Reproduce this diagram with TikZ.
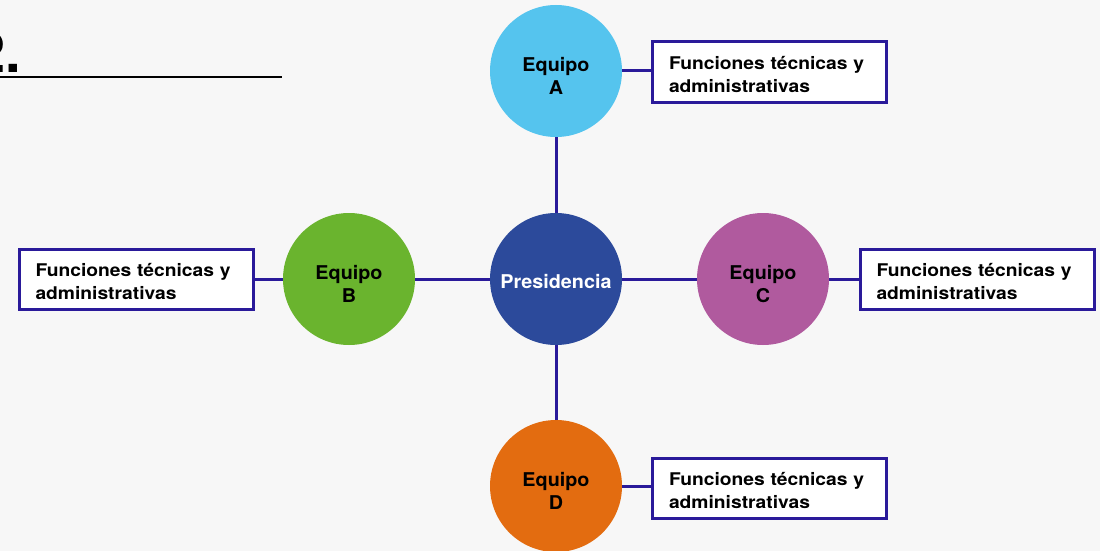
\documentclass[tikz,border=0pt]{standalone}
\usepackage{fontspec}
\setmainfont{TeX Gyre Heros}
\newfontfamily\boxfont[FakeStretch=1.1]{TeX Gyre Heros}
\newfontfamily\circfont[FakeStretch=1.04]{TeX Gyre Heros}
\definecolor{bg}{HTML}{F7F7F7}
\definecolor{linec}{HTML}{2A1A9A}
\definecolor{cA}{HTML}{55C4EE}
\definecolor{cP}{HTML}{2C4A9B}
\definecolor{cB}{HTML}{6AB42E}
\definecolor{cC}{HTML}{B05A9E}
\definecolor{cD}{HTML}{E36C10}
\newcommand{\twoln}[2]{\raisebox{-7pt}[\height][\depth]{\begin{tabular}{@{}c@{}}#1\\#2\end{tabular}}}
\newcommand{\boxtxt}{\raisebox{-4pt}[\height][\depth]{\begin{tabular}{@{}l@{}}Funciones técnicas y\\administrativas\end{tabular}}}
\begin{document}
\begin{tikzpicture}[x=1pt,y=-1pt,
  conn/.style={draw=linec, line width=3pt},
  team/.style={circle, minimum size=132pt, inner sep=0pt, align=center,
    font=\fontsize{19}{23}\circfont\bfseries, text=black},
  fbox/.style={draw=linec, line width=3pt, fill=white, rectangle,
    minimum width=234pt, minimum height=60pt, inner xsep=16.5pt, inner ysep=0pt,
    text width=201pt, align=left, font=\fontsize{17.5}{23}\boxfont\bfseries, text=black}]
\useasboundingbox (0,0) rectangle (1100,551);
\fill[bg] (0,0) rectangle (1100,551);
\clip (0,0) rectangle (1100,551);
% heading
\node[anchor=base east, inner sep=0pt, font=\fontsize{56}{60}\selectfont\bfseries] (num) at (21,72) {2.};
\coordinate (ulL) at (0,77);
\coordinate (ulR) at (282,77);
\draw[line width=1.5pt, black] (ulL) -- (ulR);
% circles
\node[team, fill=cP, text=white] (pres) at (556,279) {\raisebox{-3pt}[\height][\depth]{Presidencia}};
\node[team, fill=cA] (eqA) at (556,71) {\twoln{Equipo}{A}};
\node[team, fill=cB] (eqB) at (349,279) {\twoln{Equipo}{B}};
\node[team, fill=cC] (eqC) at (763,279) {\twoln{Equipo}{C}};
\node[team, fill=cD] (eqD) at (556,486) {\twoln{Equipo}{D}};
% boxes
\node[fbox] (bA) at (769.5,72) {\boxtxt};
\node[fbox] (bB) at (136,279) {\boxtxt};
\node[fbox] (bC) at (977,279) {\boxtxt};
\node[fbox] (bD) at (769.5,488) {\boxtxt};
% connectors
\draw[conn] (pres) -- (eqA);
\draw[conn] (pres) -- (eqB);
\draw[conn] (pres) -- (eqC);
\draw[conn] (pres) -- (eqD);
\draw[conn] (eqA.east) -- (eqA.east -| bA.west);
\draw[conn] (eqB.west) -- (bB.east);
\draw[conn] (eqC.east) -- (bC.west);
\draw[conn] (eqD.east) -- (eqD.east -| bD.west);
\end{tikzpicture}
\end{document}
